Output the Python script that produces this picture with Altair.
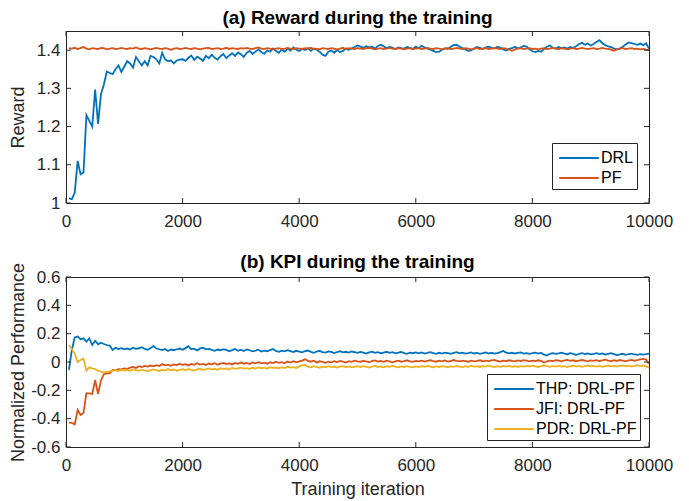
import altair as alt
import pandas as pd

ITER = list(range(50, 10001, 50))

DRL = [
    1.012, 1.010, 1.027, 1.110, 1.075, 1.080, 1.230, 1.215, 1.200, 1.297, 1.207, 1.285, 1.310, 1.344, 1.340, 1.337, 1.350, 1.360, 1.343, 1.357,
    1.371, 1.365, 1.354, 1.382, 1.371, 1.360, 1.371, 1.360, 1.385, 1.382, 1.376, 1.365, 1.393, 1.376, 1.371, 1.373, 1.365, 1.373, 1.375, 1.376,
    1.372, 1.380, 1.386, 1.374, 1.383, 1.378, 1.372, 1.385, 1.379, 1.388, 1.380, 1.375, 1.384, 1.390, 1.379, 1.386, 1.392, 1.385, 1.394, 1.389,
    1.382, 1.393, 1.398, 1.390, 1.396, 1.402, 1.395, 1.390, 1.399, 1.396, 1.404, 1.398, 1.393, 1.401, 1.396, 1.404, 1.399, 1.407, 1.401, 1.398,
    1.403, 1.400, 1.405, 1.398, 1.404, 1.401, 1.396, 1.388, 1.385, 1.396, 1.399, 1.393, 1.400, 1.395, 1.398, 1.404, 1.401, 1.405, 1.408, 1.412,
    1.409, 1.406, 1.410, 1.407, 1.409, 1.404, 1.411, 1.414, 1.410, 1.405, 1.409, 1.406, 1.403, 1.407, 1.405, 1.404, 1.408, 1.406, 1.403, 1.409,
    1.405, 1.411, 1.407, 1.404, 1.401, 1.398, 1.395, 1.396, 1.401, 1.405, 1.403, 1.409, 1.413, 1.414, 1.409, 1.405, 1.402, 1.398, 1.399, 1.404,
    1.408, 1.406, 1.403, 1.407, 1.409, 1.406, 1.404, 1.409, 1.406, 1.402, 1.399, 1.403, 1.405, 1.409, 1.404, 1.407, 1.411, 1.409, 1.402, 1.397,
    1.395, 1.398, 1.396, 1.403, 1.409, 1.412, 1.406, 1.404, 1.408, 1.405, 1.407, 1.404, 1.408, 1.406, 1.410, 1.416, 1.419, 1.414, 1.417, 1.412,
    1.416, 1.421, 1.426, 1.418, 1.413, 1.410, 1.408, 1.404, 1.402, 1.404, 1.409, 1.415, 1.420, 1.418, 1.416, 1.414, 1.417, 1.413, 1.418, 1.404,
]

PF = [
    1.405, 1.404, 1.406, 1.403, 1.405, 1.408, 1.404, 1.402, 1.405, 1.404, 1.403, 1.406, 1.405, 1.402, 1.404, 1.405, 1.403, 1.404, 1.406, 1.404,
    1.403, 1.405, 1.404, 1.407, 1.404, 1.403, 1.405, 1.404, 1.402, 1.404, 1.406, 1.404, 1.403, 1.405, 1.404, 1.401, 1.404, 1.405, 1.403, 1.404,
    1.406, 1.404, 1.403, 1.405, 1.404, 1.402, 1.404, 1.405, 1.406, 1.403, 1.404, 1.405, 1.403, 1.404, 1.406, 1.403, 1.405, 1.404, 1.403, 1.405,
    1.404, 1.406, 1.404, 1.403, 1.405, 1.407, 1.404, 1.403, 1.405, 1.404, 1.402, 1.404, 1.405, 1.403, 1.404, 1.406, 1.404, 1.403, 1.405, 1.404,
    1.403, 1.405, 1.404, 1.406, 1.403, 1.404, 1.402, 1.405, 1.404, 1.403, 1.405, 1.404, 1.402, 1.404, 1.406, 1.403, 1.405, 1.404, 1.403, 1.405,
    1.404, 1.403, 1.405, 1.406, 1.404, 1.402, 1.404, 1.405, 1.403, 1.404, 1.406, 1.404, 1.403, 1.405, 1.404, 1.402, 1.404, 1.405, 1.403, 1.404,
    1.405, 1.403, 1.404, 1.406, 1.404, 1.403, 1.405, 1.404, 1.402, 1.404, 1.405, 1.403, 1.404, 1.406, 1.404, 1.403, 1.405, 1.404, 1.402, 1.404,
    1.405, 1.403, 1.404, 1.405, 1.403, 1.404, 1.406, 1.404, 1.403, 1.405, 1.404, 1.401, 1.398, 1.402, 1.404, 1.405, 1.403, 1.404, 1.405, 1.403,
    1.404, 1.402, 1.404, 1.405, 1.403, 1.404, 1.406, 1.404, 1.403, 1.405, 1.404, 1.402, 1.404, 1.405, 1.403, 1.404, 1.406, 1.404, 1.403, 1.404,
    1.405, 1.403, 1.404, 1.406, 1.404, 1.403, 1.401, 1.398, 1.402, 1.404, 1.405, 1.403, 1.404, 1.405, 1.403, 1.404, 1.402, 1.403, 1.401, 1.400,
]

THP = [
    -0.056, 0.085, 0.174, 0.180, 0.160, 0.167, 0.143, 0.167, 0.120, 0.150, 0.125, 0.136, 0.127, 0.120, 0.115, 0.085, 0.100, 0.092, 0.098, 0.090,
    0.095, 0.088, 0.101, 0.093, 0.097, 0.104, 0.092, 0.086, 0.099, 0.112, 0.095, 0.090, 0.084, 0.092, 0.078, 0.088, 0.083, 0.090, 0.095, 0.086,
    0.098, 0.112, 0.090, 0.094, 0.082, 0.096, 0.101, 0.089, 0.093, 0.085, 0.079, 0.088, 0.083, 0.090, 0.086, 0.076, 0.084, 0.092, 0.080, 0.085,
    0.078, 0.089, 0.083, 0.075, 0.081, 0.087, 0.074, 0.080, 0.076, 0.084, 0.091, 0.078, 0.072, 0.080, 0.075, 0.083, 0.077, 0.070, 0.079, 0.074,
    0.068, 0.076, 0.081, 0.072, 0.065, 0.074, 0.079, 0.070, 0.066, 0.075, 0.071, 0.063, 0.070, 0.076, 0.068, 0.072, 0.066, 0.074, 0.069, 0.064,
    0.071, 0.066, 0.060, 0.068, 0.073, 0.065, 0.070, 0.062, 0.067, 0.072, 0.064, 0.069, 0.061, 0.066, 0.071, 0.063, 0.058, 0.066, 0.062, 0.068,
    0.061, 0.067, 0.059, 0.064, 0.070, 0.063, 0.058, 0.065, 0.060, 0.066, 0.062, 0.057, 0.064, 0.069, 0.061, 0.066, 0.059, 0.063, 0.068, 0.060,
    0.064, 0.058, 0.062, 0.067, 0.060, 0.065, 0.059, 0.063, 0.070, 0.078, 0.066, 0.061, 0.065, 0.060, 0.064, 0.068, 0.059, 0.063, 0.057, 0.062,
    0.066, 0.060, 0.064, 0.052, 0.045, 0.058, 0.063, 0.057, 0.061, 0.066, 0.059, 0.055, 0.062, 0.057, 0.049, 0.058, 0.062, 0.056, 0.060, 0.054,
    0.058, 0.063, 0.056, 0.060, 0.052, 0.057, 0.062, 0.055, 0.049, 0.053, 0.058, 0.051, 0.055, 0.059, 0.053, 0.050, 0.056, 0.052, 0.055, 0.060,
]

JFI = [
    -0.428, -0.430, -0.440, -0.339, -0.374, -0.360, -0.221, -0.222, -0.225, -0.127, -0.226, -0.130, -0.085, -0.080, -0.080, -0.056, -0.058, -0.050, -0.052, -0.045,
    -0.048, -0.040, -0.035, -0.042, -0.030, -0.036, -0.028, -0.033, -0.025, -0.030, -0.022, -0.028, -0.015, -0.024, -0.019, -0.027, -0.018, -0.022, -0.012, -0.020,
    -0.016, -0.024, -0.014, -0.020, -0.009, -0.018, -0.013, -0.022, -0.011, -0.016, -0.008, -0.019, -0.012, -0.006, -0.015, -0.010, -0.017, -0.007, -0.013, -0.004,
    -0.012, -0.006, -0.014, -0.003, -0.009, -0.001, -0.010, -0.005, -0.012, -0.002, -0.008, 0.002, -0.006, -0.001, -0.009, 0.003, -0.004, 0.006, -0.002, 0.004,
    0.010, 0.019, 0.008, 0.002, 0.009, -0.003, 0.005, 0.001, -0.006, 0.003, -0.002, 0.006, 0.000, 0.008, 0.003, -0.004, 0.005, 0.001, 0.009, 0.004,
    0.002, 0.008, 0.004, -0.001, 0.006, 0.011, 0.003, 0.007, 0.001, 0.010, 0.005, -0.002, 0.004, 0.009, 0.002, 0.006, 0.012, 0.005, 0.001, 0.007,
    0.004, 0.010, 0.003, 0.008, 0.013, 0.006, 0.002, 0.009, 0.005, 0.011, 0.003, 0.007, 0.014, 0.008, 0.004, 0.010, 0.006, 0.002, 0.009, 0.005,
    0.008, 0.012, 0.004, 0.009, 0.006, 0.011, 0.015, 0.007, 0.003, 0.010, 0.006, 0.012, 0.008, 0.004, 0.011, 0.007, 0.013, 0.009, 0.005, 0.010,
    0.006, 0.012, 0.008, -0.004, 0.005, 0.010, 0.007, 0.013, 0.009, 0.004, 0.011, 0.015, 0.008, 0.012, 0.006, 0.010, 0.014, 0.009, 0.005, 0.011,
    0.008, 0.013, 0.007, 0.011, 0.016, 0.010, 0.006, 0.012, 0.008, 0.014, 0.010, 0.005, 0.011, 0.015, 0.009, 0.013, 0.018, 0.022, 0.017, -0.012,
]

PDR = [
    0.120, 0.090, 0.060, 0.000, 0.014, 0.024, -0.061, -0.038, -0.045, -0.050, -0.062, -0.068, -0.075, -0.068, -0.066, -0.061, -0.058, -0.064, -0.055, -0.060,
    -0.055, -0.062, -0.052, -0.058, -0.063, -0.054, -0.060, -0.066, -0.057, -0.052, -0.059, -0.064, -0.055, -0.061, -0.050, -0.058, -0.053, -0.062, -0.056, -0.051,
    -0.058, -0.049, -0.055, -0.061, -0.052, -0.047, -0.056, -0.051, -0.045, -0.053, -0.048, -0.055, -0.044, -0.050, -0.046, -0.053, -0.042, -0.049, -0.045, -0.040,
    -0.047, -0.043, -0.050, -0.041, -0.046, -0.038, -0.044, -0.040, -0.047, -0.036, -0.042, -0.039, -0.045, -0.037, -0.043, -0.034, -0.040, -0.036, -0.042, -0.031,
    -0.024, -0.021, -0.033, -0.038, -0.030, -0.035, -0.041, -0.033, -0.037, -0.030, -0.036, -0.032, -0.039, -0.033, -0.029, -0.036, -0.031, -0.038, -0.034, -0.030,
    -0.035, -0.029, -0.034, -0.039, -0.032, -0.028, -0.035, -0.031, -0.037, -0.030, -0.034, -0.028, -0.033, -0.038, -0.031, -0.035, -0.029, -0.034, -0.037, -0.031,
    -0.036, -0.030, -0.034, -0.028, -0.033, -0.038, -0.031, -0.035, -0.029, -0.033, -0.037, -0.030, -0.034, -0.027, -0.032, -0.036, -0.030, -0.034, -0.028, -0.033,
    -0.030, -0.035, -0.029, -0.033, -0.026, -0.031, -0.036, -0.030, -0.034, -0.027, -0.032, -0.028, -0.034, -0.030, -0.035, -0.029, -0.033, -0.027, -0.031, -0.026,
    -0.031, -0.035, -0.029, -0.022, -0.030, -0.034, -0.028, -0.032, -0.027, -0.033, -0.029, -0.035, -0.030, -0.026, -0.032, -0.028, -0.034, -0.029, -0.025, -0.031,
    -0.027, -0.032, -0.028, -0.034, -0.029, -0.025, -0.031, -0.027, -0.033, -0.028, -0.024, -0.030, -0.026, -0.032, -0.027, -0.023, -0.029, -0.025, -0.031, -0.040,
]

TOP_SERIES = ["DRL", "PF"]
BOT_SERIES = ["THP: DRL-PF", "JFI: DRL-PF", "PDR: DRL-PF"]
X_TICKS = [0, 2000, 4000, 6000, 8000, 10000]
TOP_Y_TICKS = [1.0, 1.1, 1.2, 1.3, 1.4]
BOT_Y_TICKS = [-0.6, -0.4, -0.2, 0.0, 0.2, 0.4, 0.6]

COLORS_TOP = ["#0072BD", "#D95319"]
COLORS_BOT = ["#0072BD", "#D95319", "#EDB120"]

FONT = "Liberation Sans"
AX = "#262626"
W = 583
H1 = 172
H2 = 170
TICK = 5

top_df = pd.DataFrame({
    "iter": ITER * 2,
    "value": DRL + PF,
    "series": ["DRL"] * len(ITER) + ["PF"] * len(ITER),
    "ord": [0] * len(ITER) + [1] * len(ITER),
})
bot_df = pd.DataFrame({
    "iter": ITER * 3,
    "value": THP + JFI + PDR,
    "series": [BOT_SERIES[0]] * len(ITER) + [BOT_SERIES[1]] * len(ITER) + [BOT_SERIES[2]] * len(ITER),
    "ord": [0] * len(ITER) + [1] * len(ITER) + [2] * len(ITER),
})


def panel(df, series, colors, ydomain, yticks, ylabel_expr, ytitle, title, H,
          legend_x, legend_y, xtitle, title_offset):
    xscale = alt.Scale(domain=[0, 10000], nice=False, zero=False)
    yscale = alt.Scale(domain=ydomain, nice=False, zero=False)
    xaxis = alt.Axis(values=X_TICKS, format="d", labelPadding=10, labelFlush=False,
                     labelOverlap=False,
                     title=xtitle if xtitle else None, titlePadding=7)
    yaxis = alt.Axis(values=yticks, labelExpr=ylabel_expr, labelPadding=6,
                     labelOverlap=False, labelFlush=False, labelBound=False,
                     labelSeparation=0,
                     title=ytitle, titleX=-39, titleAnchor="middle")
    lines = alt.Chart(df).mark_line(strokeWidth=1.8, clip=True).encode(
        x=alt.X("iter:Q", scale=xscale, axis=xaxis),
        y=alt.Y("value:Q", scale=yscale, axis=yaxis),
        color=alt.Color(
            "series:N",
            scale=alt.Scale(domain=series, range=colors),
            legend=alt.Legend(
                orient="none", legendX=legend_x, legendY=legend_y, title=None,
                symbolType="M-1.8,0H1.8", symbolSize=484, symbolStrokeWidth=2,
                symbolOffset=12, labelOffset=10, labelFontSize=16, labelFont=FONT,
                labelColor="black", strokeColor=AX, fillColor="white",
                padding=3, rowPadding=0, cornerRadius=0,
            ),
        ),
        detail="series:N",
        order=alt.Order("ord:Q"),
    )
    xt = pd.DataFrame({"iter": X_TICKS})
    yt = pd.DataFrame({"value": yticks})
    xt_bottom = alt.Chart(xt).mark_rule(color=AX, strokeWidth=1).encode(
        x=alt.X("iter:Q", scale=xscale, axis=xaxis), y=alt.value(H), y2=alt.value(H - TICK))
    xt_top = alt.Chart(xt).mark_rule(color=AX, strokeWidth=1).encode(
        x=alt.X("iter:Q", scale=xscale, axis=xaxis), y=alt.value(0), y2=alt.value(TICK))
    yt_left = alt.Chart(yt).mark_rule(color=AX, strokeWidth=1).encode(
        y=alt.Y("value:Q", scale=yscale, axis=yaxis), x=alt.value(0), x2=alt.value(TICK))
    yt_right = alt.Chart(yt).mark_rule(color=AX, strokeWidth=1).encode(
        y=alt.Y("value:Q", scale=yscale, axis=yaxis), x=alt.value(W), x2=alt.value(W - TICK))
    return alt.layer(lines, xt_bottom, xt_top, yt_left, yt_right).properties(
        width=W, height=H,
        title=alt.TitleParams(title, fontSize=19, fontWeight="bold", font=FONT,
                              color="black", anchor="middle", frame="group",
                              offset=title_offset),
    )


top = panel(top_df, TOP_SERIES, COLORS_TOP, [1.0, 1.45], TOP_Y_TICKS,
            "datum.value == 1 ? '1' : format(datum.value, '.1f')",
            "Reward", "(a) Reward during the training", H1, 486, 112, None, 3)

bot = panel(bot_df, BOT_SERIES, COLORS_BOT, [-0.6, 0.6], BOT_Y_TICKS,
            "abs(datum.value) < 1e-9 ? '0' : (datum.value < 0 ? '-' : '') + format(abs(datum.value), '.1f')",
            "Normalized Performance", "(b) KPI during the training", H2, 421, 97,
            "Training iteration", -10)

chart = alt.vconcat(top, bot, spacing=22).resolve_scale(color="independent").properties(
    padding={"left": 0, "top": 0, "right": 5, "bottom": 0}
).configure(font=FONT).configure_view(
    stroke=AX, strokeWidth=1
).configure_axis(
    domain=False, ticks=False, tickSize=0, grid=False, labelOverlap=False,
    labelFont=FONT, labelFontSize=17, labelColor=AX,
    titleFont=FONT, titleFontSize=18, titleFontWeight="normal", titleColor=AX,
)

chart.save("out.html", embed_options={"renderer": "svg", "actions": False})
